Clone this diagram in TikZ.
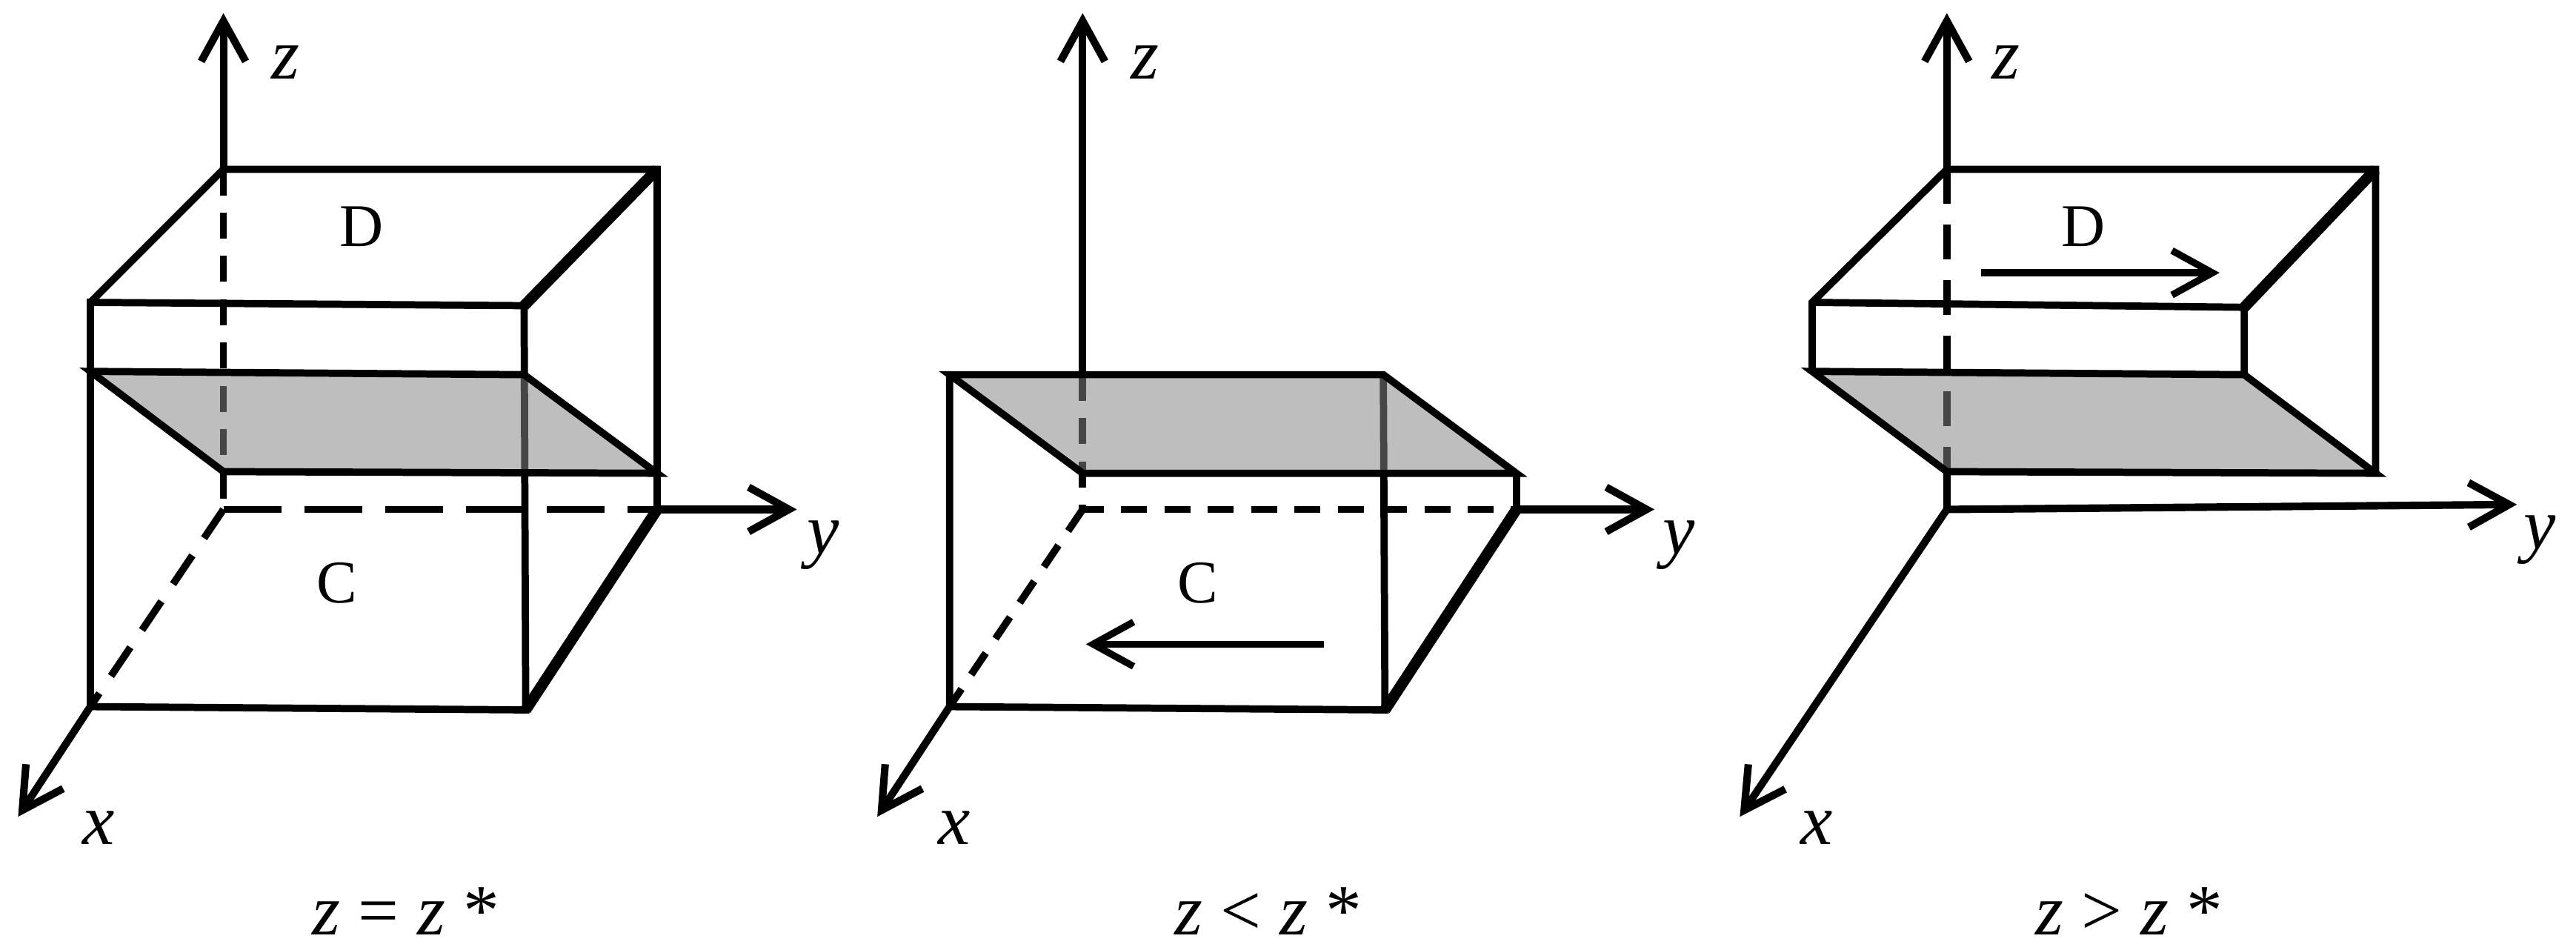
\documentclass[tikz,border=0pt]{standalone}
\usepackage{fontspec}
\setmainfont{Liberation Serif}
\usepackage{tikz}
\usetikzlibrary{arrows.meta}
\definecolor{planegray}{HTML}{858585}

\begin{document}
\begin{tikzpicture}[scale = 0.2845,
        edge/.style = {line width = 1.25pt},
        heavy/.style = {line width = 1.9pt},
        hidden/.style = {line width = 1.25pt, dash pattern = on 4.5pt off 3pt},
        midhidden/.style = {line width = 1.25pt, dash pattern = on 6pt off 3.6pt},
        longhidden/.style = {line width = 1.25pt, dash pattern = on 10pt off 4pt},
        axis/.style = {line width = 1.3pt, -{Straight Barb[length = 7pt, width = 7.7pt]}},
        flow/.style = {line width = 1.2pt, -{Straight Barb[length = 7pt, width = 7.7pt]}},
        plane/.style = {fill = planegray, fill opacity = 0.53},
        axlabel/.style = {anchor = base, font = \fontsize{12.5}{14}\selectfont\itshape},
        phase/.style = {anchor = base, font = \fontsize{10.5}{12}\selectfont},
        caption/.style = {anchor = base, font = \fontsize{12.5}{14}\selectfont}]
        \useasboundingbox (0pt, 0pt) rectangle (1568pt, -578pt);

        % Corners, z = z*
        \coordinate (o1) at (136pt, -310pt);
        \coordinate (z1) at (136pt, -8pt);
        \coordinate (y1) at (485pt, -310pt);
        \coordinate (x1) at (11pt, -497pt);
        \coordinate (tbl1) at (136pt, -103pt);
        \coordinate (tbr1) at (400pt, -103pt);
        \coordinate (tfl1) at (55pt, -184pt);
        \coordinate (tfr1) at (319pt, -186pt);
        \coordinate (pfl1) at (55pt, -226pt);
        \coordinate (pfr1) at (319pt, -228pt);
        \coordinate (pbr1) at (400pt, -288pt);
        \coordinate (pbl1) at (136pt, -287pt);
        \coordinate (bfl1) at (55pt, -430pt);
        \coordinate (bfr1) at (320pt, -432pt);
        \coordinate (bbr1) at (400pt, -310pt);

        % Corners, z < z*
        \coordinate (o2) at (659pt, -310pt);
        \coordinate (z2) at (659pt, -8pt);
        \coordinate (zc2) at (659pt, -228pt);
        \coordinate (y2) at (1007pt, -310pt);
        \coordinate (x2) at (534pt, -497pt);
        \coordinate (pfl2) at (578pt, -228pt);
        \coordinate (pfr2) at (842pt, -228pt);
        \coordinate (pbr2) at (923pt, -288pt);
        \coordinate (pbl2) at (659pt, -288pt);
        \coordinate (bfl2) at (578pt, -430pt);
        \coordinate (bfr2) at (843pt, -432pt);
        \coordinate (bbr2) at (923pt, -310pt);
        \coordinate (ct2) at (806pt, -392pt);
        \coordinate (ch2) at (661pt, -392pt);

        % Corners, z > z*
        \coordinate (o3) at (1185pt, -310pt);
        \coordinate (z3) at (1185pt, -8pt);
        \coordinate (y3) at (1532pt, -307pt);
        \coordinate (x3) at (1059pt, -497pt);
        \coordinate (tbl3) at (1185pt, -103pt);
        \coordinate (tbr3) at (1446pt, -103pt);
        \coordinate (tfl3) at (1103pt, -184pt);
        \coordinate (tfr3) at (1366pt, -187pt);
        \coordinate (pfl3) at (1103pt, -226pt);
        \coordinate (pfr3) at (1366pt, -228pt);
        \coordinate (pbr3) at (1446pt, -288pt);
        \coordinate (pbl3) at (1185pt, -287pt);
        \coordinate (dt3) at (1206pt, -166pt);
        \coordinate (dh3) at (1351pt, -166pt);

        % Hidden lines
        \draw [hidden] (tbl1) -- (o1);
        \draw [longhidden] (o1) -- (bbr1);
        \draw [midhidden] (o1) -- (bfl1);
        \draw [hidden] (zc2) -- (o2) -- (bbr2);
        \draw [hidden] (o2) -- (bfl2);
        \draw [midhidden] (tbl3) -- (pbl3);

        % Axes
        \draw [axis] (tbl1) -- (z1);
        \draw [axis] (bbr1) -- (y1);
        \draw [axis] (bfl1) -- (x1);
        \draw [axis] (zc2) -- (z2);
        \draw [axis] (bbr2) -- (y2);
        \draw [axis] (bfl2) -- (x2);
        \draw [axis] (tbl3) -- (z3);
        \draw [axis] (o3) -- (y3);
        \draw [axis] (o3) -- (x3);
        \draw [edge] (pbl3) -- (o3);

        % Box, z = z*
        \draw [edge] (tfl1) -- (tbl1) -- (tbr1) -- (bbr1);
        \draw [edge] (tfl1) -- (tfr1) -- (bfr1) -- (bfl1) -- cycle;
        \draw [heavy] (tfr1) -- (tbr1);
        \draw [heavy] (bfr1) -- (bbr1);

        % Box, z < z*
        \draw [edge] (pfl2) -- (bfl2) -- (bfr2) -- (pfr2);
        \draw [edge] (pbr2) -- (bbr2);
        \draw [heavy] (bbr2) -- (bfr2);

        % Box, z > z*
        \draw [edge] (pfl3) -- (tfl3) -- (tbl3) -- (tbr3) -- (pbr3);
        \draw [edge] (tfl3) -- (tfr3) -- (pfr3);
        \draw [heavy] (tfr3) -- (tbr3);

        % Interfaces
        \fill [plane] (pfl1) -- (pfr1) -- (pbr1) -- (pbl1) -- cycle;
        \fill [plane] (pfl2) -- (pfr2) -- (pbr2) -- (pbl2) -- cycle;
        \fill [plane] (pfl3) -- (pfr3) -- (pbr3) -- (pbl3) -- cycle;
        \draw [edge] (pfl1) -- (pfr1) -- (pbr1) -- (pbl1) -- cycle;
        \draw [edge] (pfl2) -- (pfr2) -- (pbr2) -- (pbl2) -- cycle;
        \draw [edge] (pfl3) -- (pfr3) -- (pbr3) -- (pbl3) -- cycle;

        % Motion
        \draw [flow] (ct2) -- (ch2);
        \draw [flow] (dt3) -- (dh3);

        % Axis labels
        \node [axlabel] (zl1) at (174pt, -48pt) {z};
        \node [axlabel] (yl1) at (501pt, -337pt) {y};
        \node [axlabel] (xl1) at (60pt, -514pt) {x};
        \node [axlabel] (zl2) at (697pt, -48pt) {z};
        \node [axlabel] (yl2) at (1022pt, -337pt) {y};
        \node [axlabel] (xl2) at (581pt, -514pt) {x};
        \node [axlabel] (zl3) at (1221pt, -48pt) {z};
        \node [axlabel] (yl3) at (1546pt, -334pt) {y};
        \node [axlabel] (xl3) at (1106pt, -514pt) {x};

        % Phases
        \node [phase] (d1) at (220pt, -150pt) {D};
        \node [phase] (c1) at (205pt, -367pt) {C};
        \node [phase] (c2) at (729pt, -367pt) {C};
        \node [phase] (d3) at (1268pt, -150pt) {D};

        % Cases
        \node [caption] (k1) at (247pt, -569pt) {\textit{z} = \textit{z} *};
        \node [caption] (k2) at (772pt, -569pt) {\textit{z} < \textit{z} *};
        \node [caption] (k3) at (1296pt, -569pt) {\textit{z} > \textit{z} *};

\end{tikzpicture}
\end{document}
